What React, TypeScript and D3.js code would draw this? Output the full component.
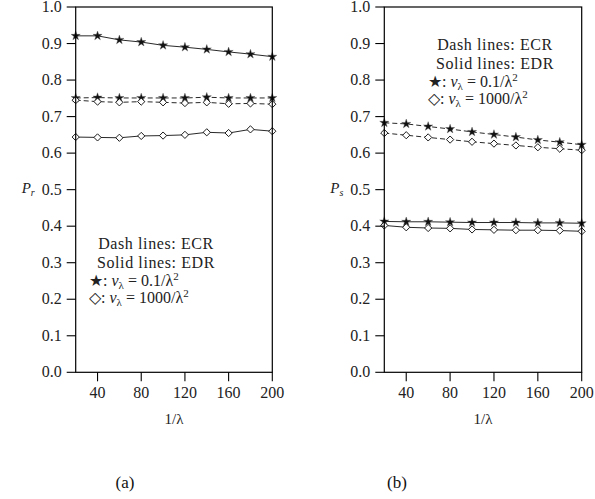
import React from "react";
import * as d3 from "d3";

const xValues = [20, 40, 60, 80, 100, 120, 140, 160, 180, 200];
const xTicks = [40, 80, 120, 160, 200];
const yTicks = [0, 0.1, 0.2, 0.3, 0.4, 0.5, 0.6, 0.7, 0.8, 0.9, 1.0];

// Panel (a): P_r
const aECRStar = [0.751, 0.752, 0.751, 0.751, 0.751, 0.751, 0.753, 0.751, 0.751, 0.751];
const aECRDiamond = [0.745, 0.741, 0.739, 0.741, 0.739, 0.737, 0.739, 0.735, 0.736, 0.734];
const aEDRStar = [0.921, 0.921, 0.910, 0.904, 0.895, 0.890, 0.884, 0.877, 0.871, 0.864];
const aEDRDiamond = [0.644, 0.643, 0.642, 0.647, 0.648, 0.650, 0.657, 0.655, 0.665, 0.660];

// Panel (b): P_s
const bECRStar = [0.683, 0.680, 0.673, 0.666, 0.658, 0.651, 0.644, 0.636, 0.630, 0.623];
const bECRDiamond = [0.655, 0.649, 0.643, 0.637, 0.631, 0.626, 0.621, 0.616, 0.612, 0.608];
const bEDRStar = [0.413, 0.412, 0.412, 0.411, 0.410, 0.410, 0.410, 0.409, 0.409, 0.408];
const bEDRDiamond = [0.402, 0.397, 0.395, 0.394, 0.391, 0.390, 0.389, 0.389, 0.388, 0.386];

const FONT = "'Liberation Serif', 'Times New Roman', serif";

type Series = { values: number[]; dashed: boolean; marker: "star" | "diamond" };

function Legend({ x, y }: { x: number; y: number }) {
  return (
    <g fontFamily={FONT} fontSize={16} fill="#222">
      <text x={x} y={y} textAnchor="middle" letterSpacing={0.6}>Dash lines: ECR</text>
      <text x={x} y={y + 18.5} textAnchor="middle" letterSpacing={0.6}>Solid lines: EDR</text>
      <text x={x - 67} y={y + 36.5}>
        <tspan>★: </tspan>
        <tspan fontStyle="italic">v</tspan>
        <tspan fontSize={11} dy={3}>λ</tspan>
        <tspan dy={-3}> = 0.1/λ</tspan>
        <tspan fontSize={11} dy={-6}>2</tspan>
      </text>
      <text x={x - 67} y={y + 53.5}>
        <tspan>◇: </tspan>
        <tspan fontStyle="italic">v</tspan>
        <tspan fontSize={11} dy={3}>λ</tspan>
        <tspan dy={-3}> = 1000/λ</tspan>
        <tspan fontSize={11} dy={-6}>2</tspan>
      </text>
    </g>
  );
}

function Panel({
  left,
  right,
  series,
  ylab,
  sub,
  caption,
  captionX,
  legendX,
  legendY,
}: {
  left: number;
  right: number;
  series: Series[];
  ylab: string;
  sub: string;
  caption: string;
  captionX: number;
  legendX: number;
  legendY: number;
}) {
  const x = d3.scaleLinear().domain([20, 200]).range([left, right]);
  const y = d3.scaleLinear().domain([0, 1]).range([372.3, 7]);
  const line = d3
    .line<number>()
    .x((_, i) => x(xValues[i]))
    .y((d) => y(d));
  const star = d3.symbol().type(d3.symbolStar).size(26)()!;
  const square = d3.symbol().type(d3.symbolSquare).size(26)()!;
  const tick = 9;
  return (
    <g>
      {series.map((s, k) => (
        <path
          key={"l" + k}
          d={line(s.values)!}
          fill="none"
          stroke="#111"
          strokeWidth={0.9}
          strokeDasharray={s.dashed ? "5,3" : undefined}
        />
      ))}
      {series.map((s, k) =>
        s.values.map((v, i) =>
          s.marker === "star" ? (
            <path
              key={"m" + k + "-" + i}
              d={star}
              transform={`translate(${x(xValues[i])},${y(v)})`}
              fill="#111"
              stroke="#555"
              strokeWidth={0.4}
            />
          ) : (
            <path
              key={"m" + k + "-" + i}
              d={square}
              transform={`translate(${x(xValues[i])},${y(v)}) rotate(45)`}
              fill="white"
              stroke="#111"
              strokeWidth={0.9}
            />
          )
        )
      )}
      <rect
        x={left}
        y={y(1)}
        width={right - left}
        height={y(0) - y(1)}
        fill="none"
        stroke="#000"
        strokeWidth={1.2}
      />
      {yTicks.map((t) => (
        <g key={"yt" + t}>
          <line x1={left - tick} x2={left} y1={y(t)} y2={y(t)} stroke="#000" strokeWidth={1.1} />
          <text
            x={left - tick - 5}
            y={y(t) + 5}
            textAnchor="end"
            fontFamily={FONT}
            fontSize={16}
            fill="#222"
          >
            {t.toFixed(1)}
          </text>
        </g>
      ))}
      {xTicks.map((t) => (
        <g key={"xt" + t}>
          <line x1={x(t)} x2={x(t)} y1={y(0)} y2={y(0) + tick} stroke="#000" strokeWidth={1.1} />
          <text
            x={x(t)}
            y={398}
            textAnchor="middle"
            fontFamily={FONT}
            fontSize={16}
            fill="#222"
          >
            {t}
          </text>
        </g>
      ))}
      <text
        x={(left + right) / 2}
        y={424}
        textAnchor="middle"
        fontFamily={FONT}
        fontSize={15}
        fill="#222"
      >
        1/λ
      </text>
      <text x={left - 54} y={193} fontFamily={FONT} fontSize={15} fill="#222">
        <tspan fontStyle="italic">{ylab}</tspan>
        <tspan fontStyle="italic" fontSize={10} dy={3}>
          {sub}
        </tspan>
      </text>
      <Legend x={legendX} y={legendY} />
      <text
        x={captionX}
        y={488}
        textAnchor="middle"
        fontFamily={FONT}
        fontSize={17}
        fill="#111"
      >
        {caption}
      </text>
    </g>
  );
}

export default function App() {
  const seriesA: Series[] = [
    { values: aECRStar, dashed: true, marker: "star" },
    { values: aECRDiamond, dashed: true, marker: "diamond" },
    { values: aEDRStar, dashed: false, marker: "star" },
    { values: aEDRDiamond, dashed: false, marker: "diamond" },
  ];
  const seriesB: Series[] = [
    { values: bECRStar, dashed: true, marker: "star" },
    { values: bECRDiamond, dashed: true, marker: "diamond" },
    { values: bEDRStar, dashed: false, marker: "star" },
    { values: bEDRDiamond, dashed: false, marker: "diamond" },
  ];
  return (
    <svg
      width={595}
      height={499}
      style={{ position: "absolute", left: 0, top: 0, background: "white" }}
    >
      <Panel
        left={75.7}
        right={272.3}
        series={seriesA}
        ylab="P"
        sub="r"
        caption="(a)"
        captionX={125}
        legendX={156}
        legendY={249}
      />
      <Panel
        left={384.3}
        right={581.7}
        series={seriesB}
        ylab="P"
        sub="s"
        caption="(b)"
        captionX={397}
        legendX={495}
        legendY={50}
      />
    </svg>
  );
}
